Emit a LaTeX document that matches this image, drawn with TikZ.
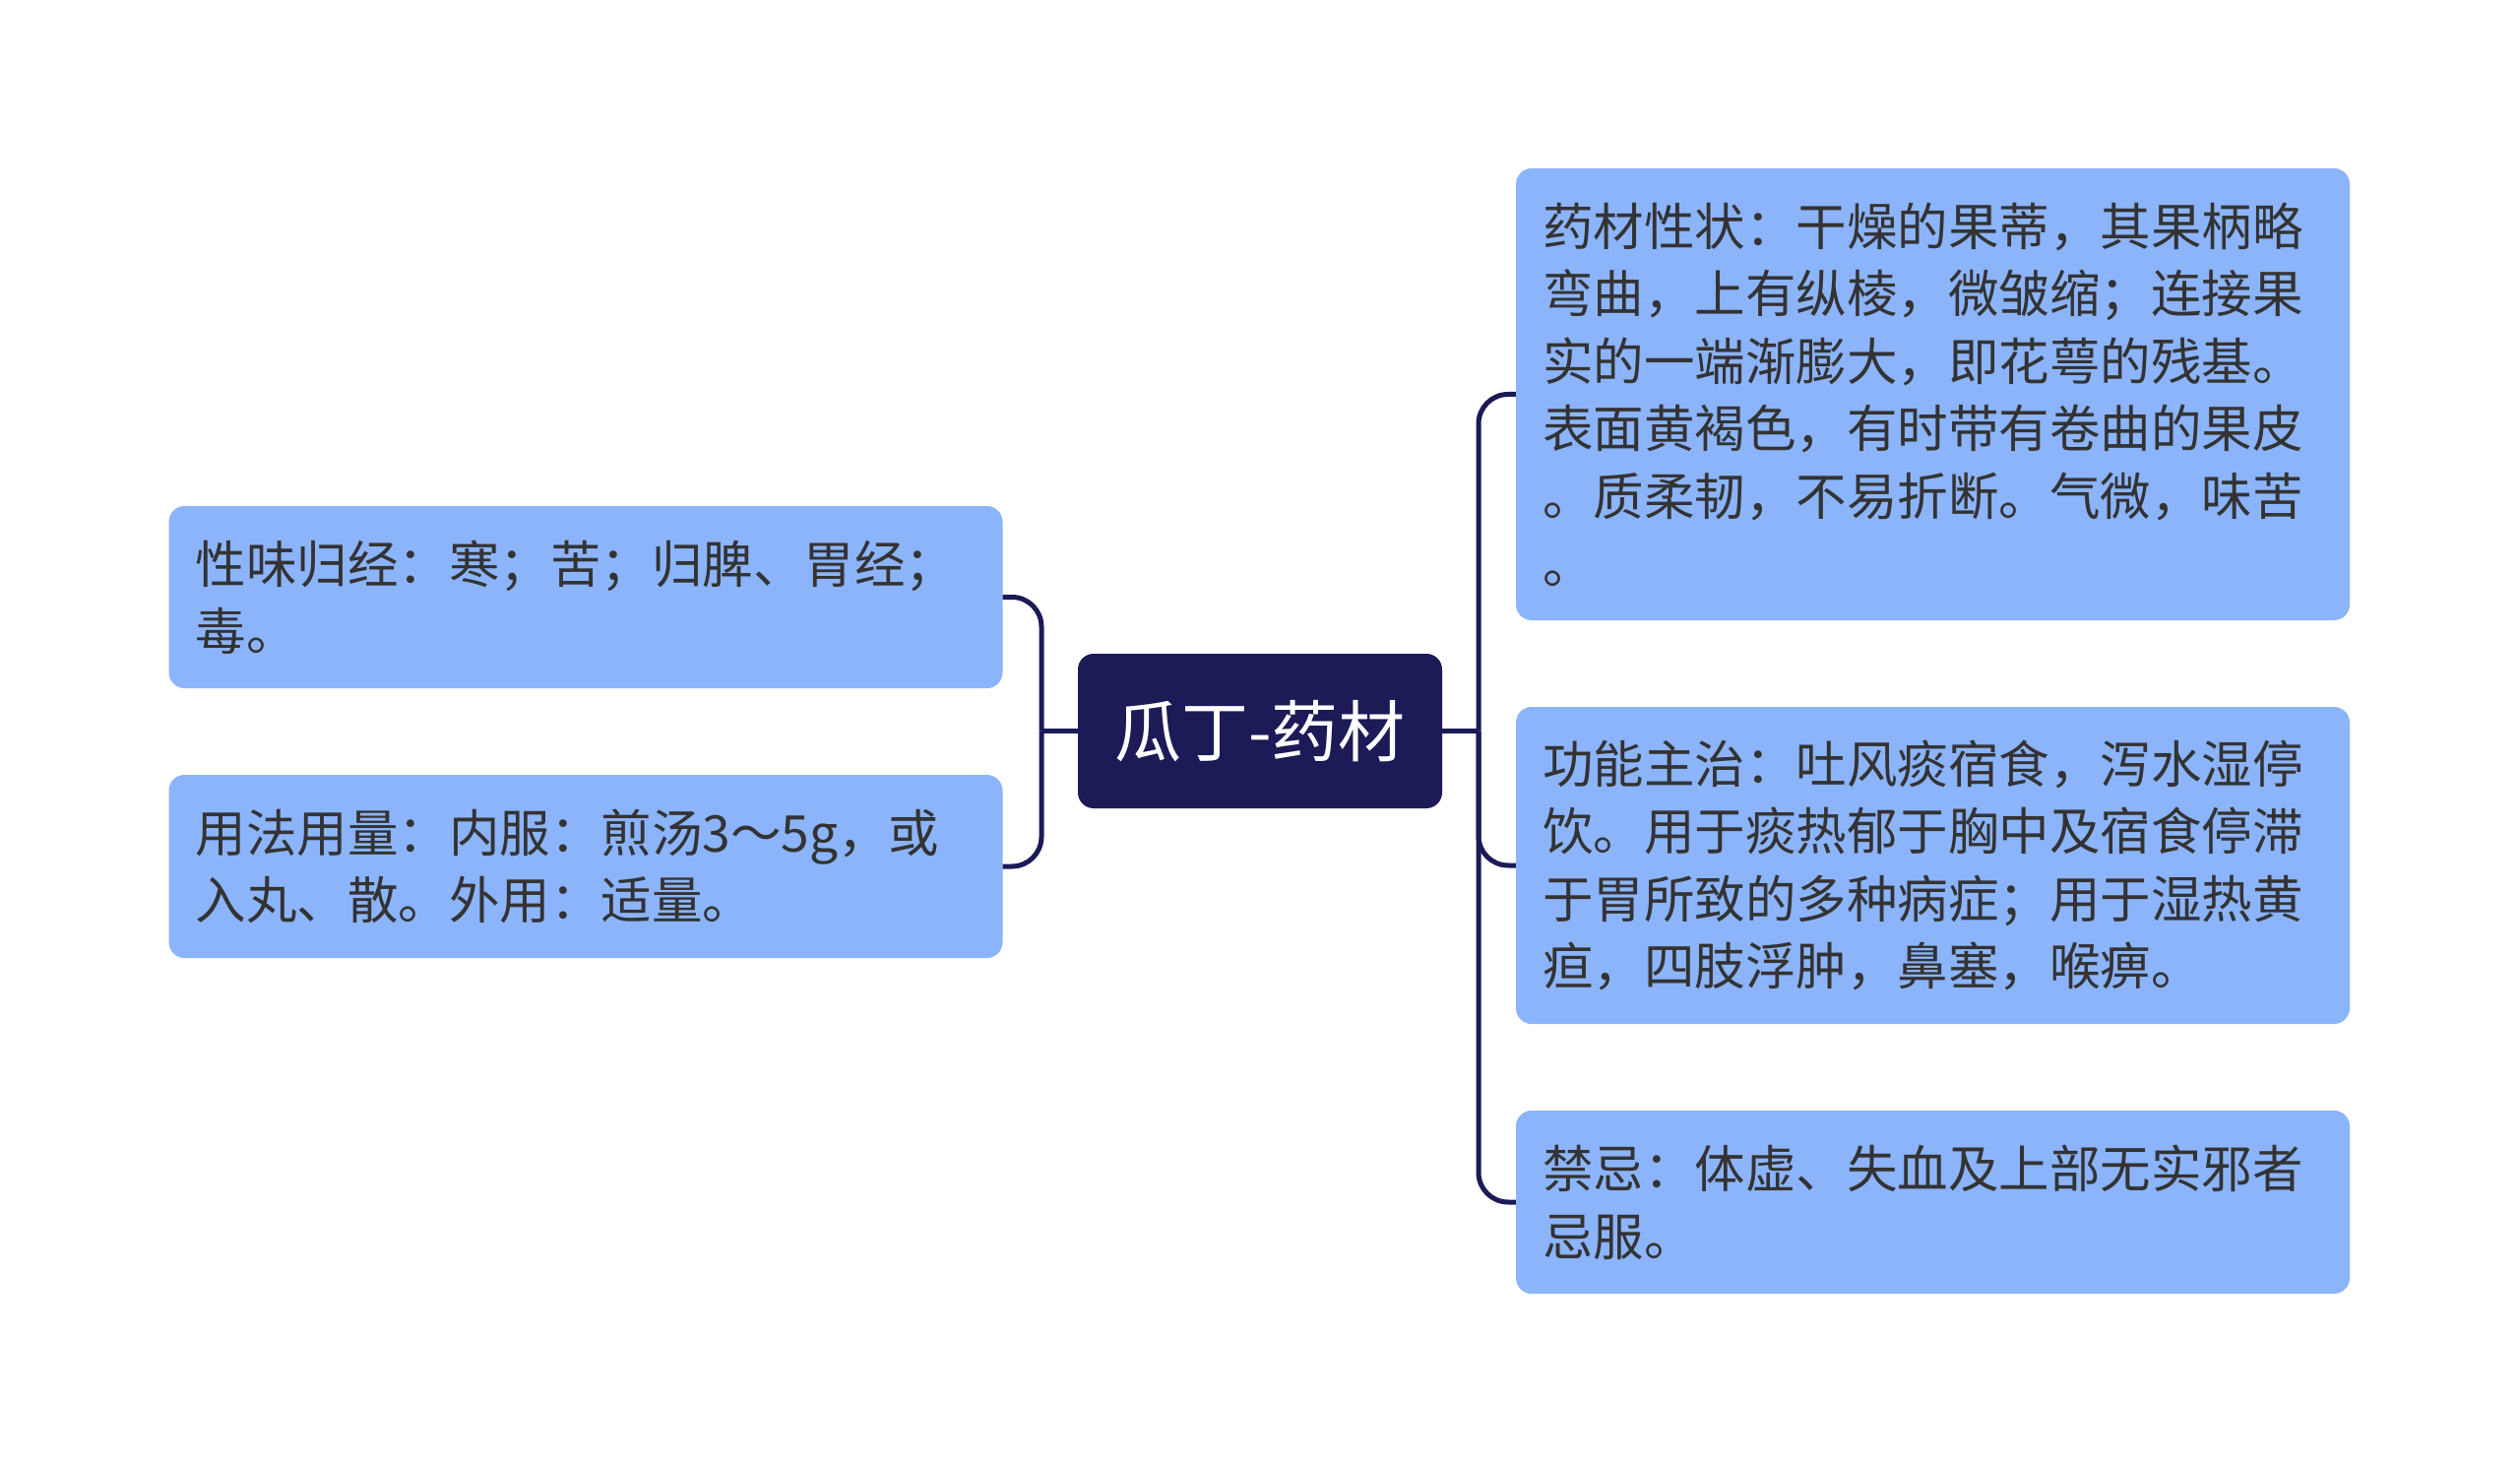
\documentclass[tikz,border=0pt]{standalone}
\usepackage{fontspec}
\setmainfont{Noto Sans CJK SC}
\definecolor{boxfill}{HTML}{8CB4FB}
\definecolor{navy}{HTML}{1C1A57}
\definecolor{txt}{HTML}{333333}
\begin{document}
\begin{tikzpicture}[x=1pt,y=-1pt,
  leaf/.style={draw=none,fill=boxfill,rounded corners=16pt,text=txt,
    minimum width=847pt,text width=793pt,inner xsep=27pt,inner ysep=0pt,align=left,
    font=\fontsize{51.5pt}{68.6pt}\selectfont},
  root/.style={draw=none,fill=navy,rounded corners=16pt,text=white,
    minimum width=370pt,minimum height=157pt,inner sep=0pt,
    font=\fontsize{68pt}{74pt}\selectfont},
  link/.style={draw=navy,line width=5pt,rounded corners=30pt}]
\useasboundingbox[fill=white] (0,0) rectangle (2560,1487);
\node[root] (C) at (1280,742.5) {瓜丁-药材};
\node[leaf,minimum height=185pt] (L1) at (595,606.5) {性味归经：寒；苦；归脾、胃经；\\毒。};
\node[leaf,minimum height=186pt] (L2) at (595,880) {用法用量：内服：煎汤3～5g，或\\入丸、散。外用：适量。};
\node[leaf,minimum height=459pt] (R1) at (1963.5,400.5) {药材性状：干燥的果蒂，其果柄略\\弯曲，上有纵棱，微皱缩；连接果\\实的一端渐膨大，即花萼的残基。\\表面黄褐色，有时带有卷曲的果皮\\。质柔韧，不易折断。气微，味苦\\。};
\node[leaf,minimum height=322pt] (R2) at (1963.5,879) {功能主治：吐风痰宿食，泻水湿停\\饮。用于痰热郁于胸中及宿食停滞\\于胃所致的多种病症；用于湿热黄\\疸，四肢浮肿，鼻塞，喉痹。};
\node[leaf,minimum height=186pt] (R3) at (1963.5,1221) {禁忌：体虚、失血及上部无实邪者\\忌服。};
\coordinate (jl) at (1058,742.5);
\coordinate (jr) at (1502,742.5);
\draw[link] (C.west) -- (jl);
\draw[link] (jl) |- (L1.east);
\draw[link] (jl) |- (L2.east);
\draw[link] (C.east) -- (jr);
\draw[link] (jr) |- (R1.west);
\draw[link] (jr) |- (R2.west);
\draw[link] (jr) |- (R3.west);
\end{tikzpicture}
\end{document}
